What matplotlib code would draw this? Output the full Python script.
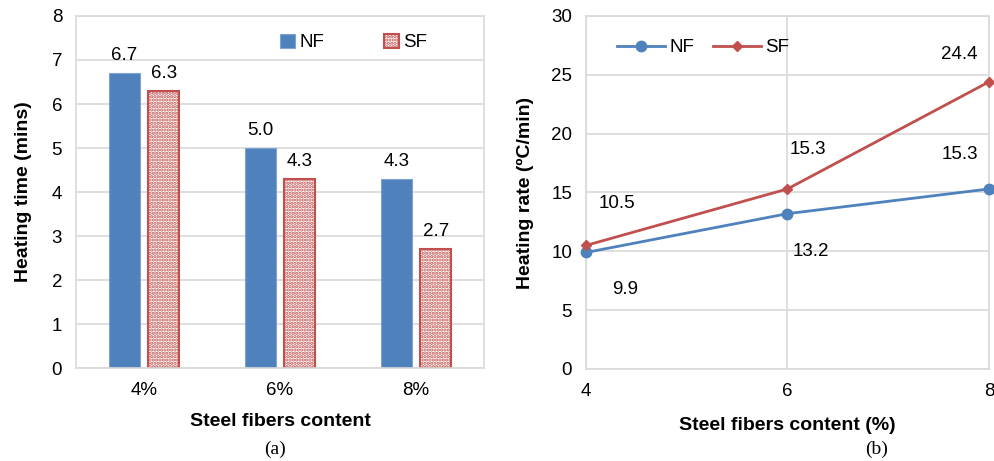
import matplotlib
matplotlib.use("Agg")
from matplotlib import pyplot as plt
import numpy as np

# Heating time per fiber content (bar chart)
contents = ["4%", "6%", "8%"]
time_nf = [6.7, 5.0, 4.3]
time_sf = [6.3, 4.3, 2.7]

# Heating rate per fiber content (line chart)
fiber_pct = [4, 6, 8]
rate_nf = [9.9, 13.2, 15.3]
rate_sf = [10.5, 15.3, 24.4]

BLUE = "#4F81BD"
RED = "#C0504D"
GRID = "#D9D9D9"
FS = 13.5

plt.rcParams["font.family"] = ["Liberation Sans", "DejaVu Sans"]
plt.rcParams["hatch.linewidth"] = 1.6

fig = plt.figure(figsize=(9.94, 4.61), dpi=100)


def style_axes(ax):
    for s in ax.spines.values():
        s.set_color(GRID)
        s.set_linewidth(1.2)
    ax.tick_params(length=0, labelsize=FS, pad=10)
    ax.grid(True, color=GRID, linewidth=1.2)
    ax.set_axisbelow(True)


# (a) bar chart
ax1 = fig.add_axes([0.0765, 0.2017, 0.4105, 0.7636])
style_axes(ax1)
ax1.xaxis.grid(False)
x = np.arange(len(contents))
w = 0.225
b1 = ax1.bar(x - 0.145, time_nf, w, color=BLUE, edgecolor="#7FA4D4", linewidth=0.8, label="NF")
b2 = ax1.bar(x + 0.145, time_sf, w, color="white", edgecolor=RED, linewidth=1.5,
             hatch=".....", label="SF")
for bars, vals in ((b1, time_nf), (b2, time_sf)):
    for r, v in zip(bars, vals):
        ax1.annotate(f"{v:.1f}", (r.get_x() + r.get_width() / 2, v),
                     xytext=(0, 9), textcoords="offset pixels",
                     ha="center", va="bottom", fontsize=FS)
ax1.set_xlim(-0.5, 2.5)
ax1.set_ylim(0, 8)
ax1.set_xticks(x, contents)
ax1.set_yticks(range(0, 9))
ax1.set_ylabel("Heating time (mins)", fontsize=14, fontweight="bold", labelpad=14)
ax1.set_xlabel("Steel fibers content", fontsize=14, fontweight="bold", labelpad=10)
ax1.legend(loc="center", bbox_to_anchor=(0.68, 0.925), ncol=2, frameon=False,
           fontsize=FS, handlelength=0.8, handleheight=0.8, handletextpad=0.2,
           columnspacing=3.2)
fig.text(0.2765, 0.015, "(a)", fontsize=14, family="Liberation Serif", ha="center")

# (b) line chart
ax2 = fig.add_axes([0.5895, 0.1996, 0.4054, 0.7657])
style_axes(ax2)
ax2.plot(fiber_pct, rate_nf, color=BLUE, linewidth=2, marker="o", markersize=7.5,
         label="NF", clip_on=False, zorder=3)
ax2.plot(fiber_pct, rate_sf, color=RED, linewidth=2, marker="D", markersize=5,
         label="SF", clip_on=False, zorder=4)
nf_offsets = [(39, -37), (23, -38), (-29, 34)]
sf_offsets = [(31, 42), (20, 39), (-30, 27)]
for xs, ys, offs in ((fiber_pct, rate_nf, nf_offsets), (fiber_pct, rate_sf, sf_offsets)):
    for xv, yv, (dx, dy) in zip(xs, ys, offs):
        ax2.annotate(f"{yv:.1f}", (xv, yv), xytext=(dx, dy), textcoords="offset pixels",
                     ha="center", va="center", fontsize=FS)
ax2.set_xlim(4, 8)
ax2.set_ylim(0, 30)
ax2.set_xticks([4, 6, 8])
ax2.set_yticks(range(0, 31, 5))
ax2.set_ylabel("Heating rate (ºC/min)", fontsize=14, fontweight="bold", labelpad=12)
ax2.set_xlabel("Steel fibers content (%)", fontsize=14, fontweight="bold", labelpad=12)
ax2.legend(loc="center", bbox_to_anchor=(0.29, 0.91), ncol=2, frameon=False,
           fontsize=FS, handlelength=2.6, handletextpad=0.2, columnspacing=1.0)
fig.text(0.882, 0.015, "(b)", fontsize=14, family="Liberation Serif", ha="center")

fig.savefig("out.png", dpi=100)
